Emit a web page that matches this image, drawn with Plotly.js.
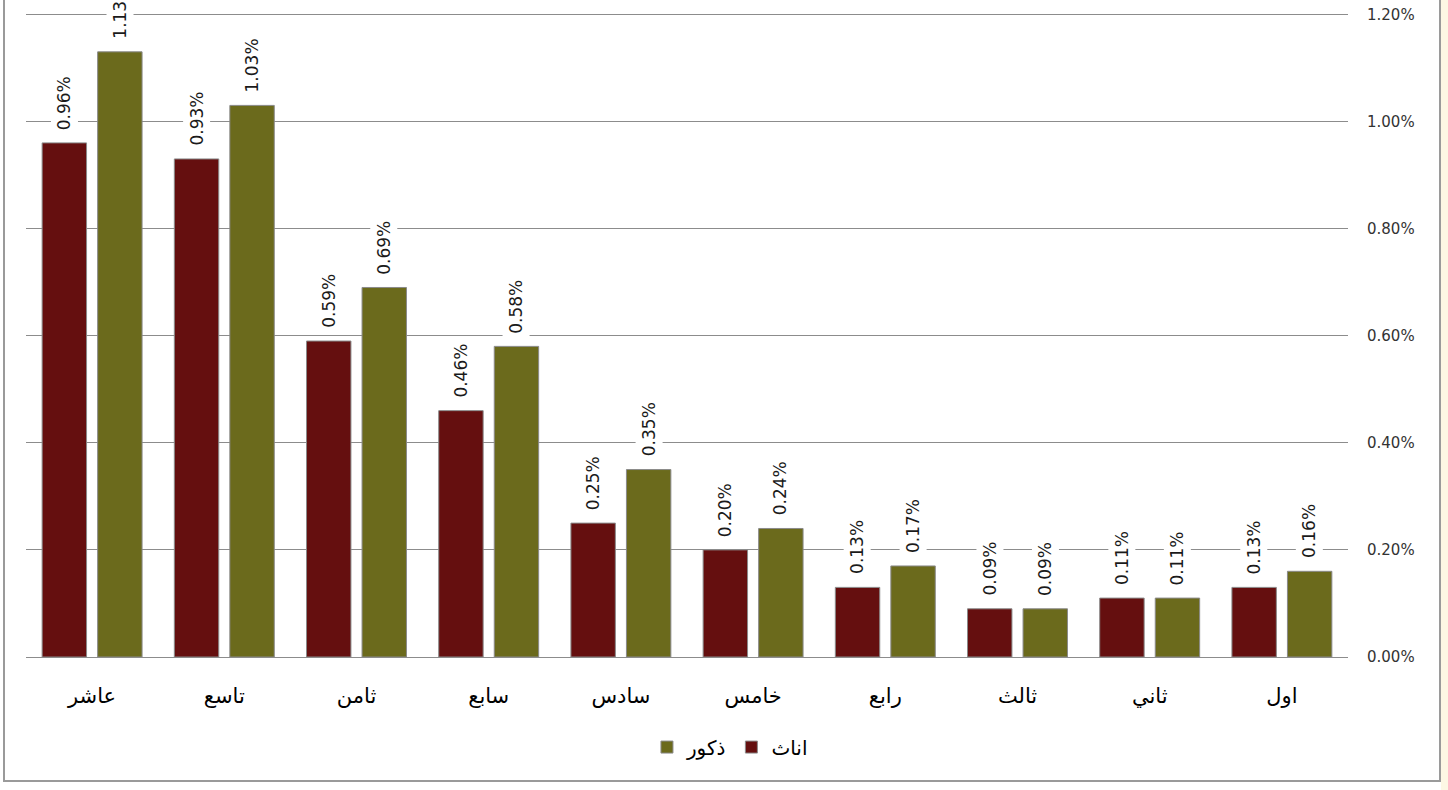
<!DOCTYPE html>
<html>
<head>
<meta charset="utf-8">
<script src="https://cdn.plot.ly/plotly-3.0.1.min.js"></script>
<style>
html,body{margin:0;padding:0;background:#ffffff;}
#wrap{position:relative;width:1448px;height:790px;overflow:hidden;}
#strip{position:absolute;left:1441px;top:0;width:7px;height:790px;background:#fdf7e4;}
#frame{position:absolute;left:3px;top:-5px;width:1434px;height:785px;border:2px solid #9a9a9a;border-top:none;pointer-events:none;}
#chart{position:absolute;left:0;top:0;width:1448px;height:790px;}
</style>
</head>
<body>
<div id="wrap">
<div id="strip"></div>
<div id="chart"></div>
<div id="frame"></div>
</div>
<script>
const categories = ["عاشر","تاسع","ثامن","سابع","سادس","خامس","رابع","ثالث","ثاني","اول"];
const femaleName = "اناث";
const maleName = "ذكور";
const female = [0.96,0.93,0.59,0.46,0.25,0.20,0.13,0.09,0.11,0.13];
const male   = [1.13,1.03,0.69,0.58,0.35,0.24,0.17,0.09,0.11,0.16];
const yTicks = [0,0.2,0.4,0.6,0.8,1.0,1.2];

const redCol = "#650f0f";
const oliveCol = "#6b6a1c";
const font = "DejaVu Sans, Tahoma, sans-serif";

const traces = [
  {type:"bar", name:femaleName, x:categories, y:female,
   marker:{color:redCol, line:{color:"#8a8a8a", width:1}}, hoverinfo:"none"},
  {type:"bar", name:maleName, x:categories, y:male,
   marker:{color:oliveCol, line:{color:"#8a8a8a", width:1}}, hoverinfo:"none"}
];

const shift = 27.75;
const annotations = [];
[[female,-shift],[male,shift]].forEach(([vals,xs])=>{
  vals.forEach((v,i)=>{
    annotations.push({
      x:categories[i], y:v, xref:"x", yref:"y",
      text:v.toFixed(2)+"%", showarrow:false,
      textangle:-90, xanchor:"center", yanchor:"bottom",
      xshift:xs, yshift:9,
      bgcolor:"#ffffff", borderpad:3,
      font:{family:font, size:17, color:"#1a1a1a"}
    });
  });
});

const layout = {
  width:1448, height:790,
  margin:{l:26, r:100, t:8.6, b:133},
  paper_bgcolor:"rgba(0,0,0,0)", plot_bgcolor:"rgba(0,0,0,0)",
  barmode:"group", bargap:0.16, bargroupgap:0.2,
  showlegend:true,
  legend:{orientation:"h", x:0.5325, xanchor:"center", y:-0.139, yanchor:"middle",
          traceorder:"reversed", font:{family:font, size:20, color:"#000"}},
  xaxis:{type:"category", showgrid:false, zeroline:false, showline:false,
         ticks:"", ticklabelstandoff:24,
         tickfont:{family:font, size:21, color:"#000"}},
  yaxis:{side:"right", range:[0,1.21], tickvals:yTicks,
         ticktext:yTicks.map(v=>v.toFixed(2)+"%"),
         showgrid:true, gridcolor:"#8c8c8c", gridwidth:1,
         zeroline:true, zerolinecolor:"#8c8c8c", zerolinewidth:1,
         showline:false, ticks:"", ticklabelstandoff:18,
         tickfont:{family:font, size:15, color:"#333"}},
  annotations:annotations
};

Plotly.newPlot("chart", traces, layout, {displayModeBar:false, staticPlot:true});
</script>
</body>
</html>
